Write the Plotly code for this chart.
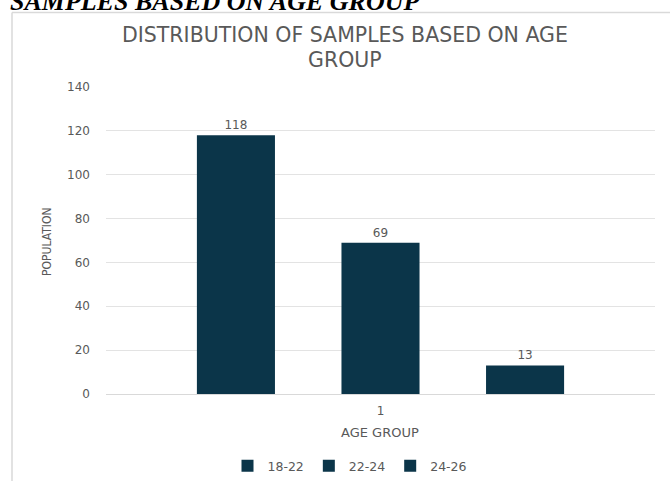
import plotly.graph_objects as go

categories = ["1"]
series_names = ["18-22", "22-24", "24-26"]
series_values = [[118], [69], [13]]
y_ticks = [0, 20, 40, 60, 80, 100, 120, 140]

BAR = "#0b3549"
GREY = "#595959"
FONT = "DejaVu Sans"

fig = go.Figure()
for name, vals in zip(series_names, series_values):
    fig.add_trace(go.Bar(
        x=categories, y=vals, name=name,
        marker=dict(color=BAR, line=dict(width=0)),
        text=[str(v) for v in vals], textposition="outside",
        textfont=dict(family=FONT, size=12, color=GREY),
        cliponaxis=False,
    ))

W, H = 670, 481
L, R, T, B = 106, 15, 87, 87
pw, ph = W - L - R, H - T - B

def px(x):
    return (x - L) / pw

def py(y):
    return (H - B - y) / ph

fig.update_layout(
    width=W, height=H,
    margin=dict(l=L, r=R, t=T, b=B, autoexpand=False),
    paper_bgcolor="white", plot_bgcolor="white",
    barmode="group", bargap=0.21, bargroupgap=0.46,
    showlegend=True,
    legend=dict(orientation="h", x=px(350), xanchor="center", y=py(466), yanchor="middle",
                font=dict(family=FONT, size=12.5, color=GREY), itemwidth=30,
                traceorder="normal"),
    font=dict(family=FONT, color=GREY),
    xaxis=dict(showgrid=False, showline=False, zeroline=False, ticks="",
               tickfont=dict(family=FONT, size=12, color=GREY), ticklabelstandoff=8),
    yaxis=dict(range=[0, 140], tickvals=y_ticks, showgrid=True, gridcolor="#e3e3e3", gridwidth=1,
               zeroline=True, zerolinecolor="#d9d9d9", zerolinewidth=1, showline=False, ticks="",
               tickfont=dict(family=FONT, size=12, color=GREY), ticklabelstandoff=15),
)

fig.add_annotation(xref="paper", yref="paper", x=px(345), y=py(35), text="DISTRIBUTION OF SAMPLES BASED ON AGE",
                   showarrow=False, xanchor="center", yanchor="middle",
                   font=dict(family=FONT, size=20.5, color=GREY))
fig.add_annotation(xref="paper", yref="paper", x=px(345), y=py(60), text="GROUP",
                   showarrow=False, xanchor="center", yanchor="middle",
                   font=dict(family=FONT, size=20.5, color=GREY))
fig.add_annotation(xref="paper", yref="paper", x=px(380), y=py(432), text="AGE GROUP",
                   showarrow=False, xanchor="center", yanchor="middle",
                   font=dict(family=FONT, size=13, color=GREY))
fig.add_annotation(xref="paper", yref="paper", x=px(47), y=py(242), text="POPULATION",
                   showarrow=False, xanchor="center", yanchor="middle", textangle=-90,
                   font=dict(family="DejaVu Sans Condensed, Liberation Sans", size=12, color=GREY))
fig.add_annotation(xref="paper", yref="paper", x=px(8), y=py(1), text="<b><i>SAMPLES BASED ON AGE GROUP</i></b>",
                   showarrow=False, xanchor="left", yanchor="middle",
                   font=dict(family="Liberation Serif", size=26, color="black"))

fig.add_shape(type="line", xref="paper", yref="paper", x0=px(12), x1=px(670), y0=py(12.5), y1=py(12.5),
              line=dict(color="#d9d9d9", width=1.5))
fig.add_shape(type="line", xref="paper", yref="paper", x0=px(12), x1=px(12), y0=py(12.5), y1=py(481),
              line=dict(color="#d9d9d9", width=1.5))

fig.write_html("out.html")
